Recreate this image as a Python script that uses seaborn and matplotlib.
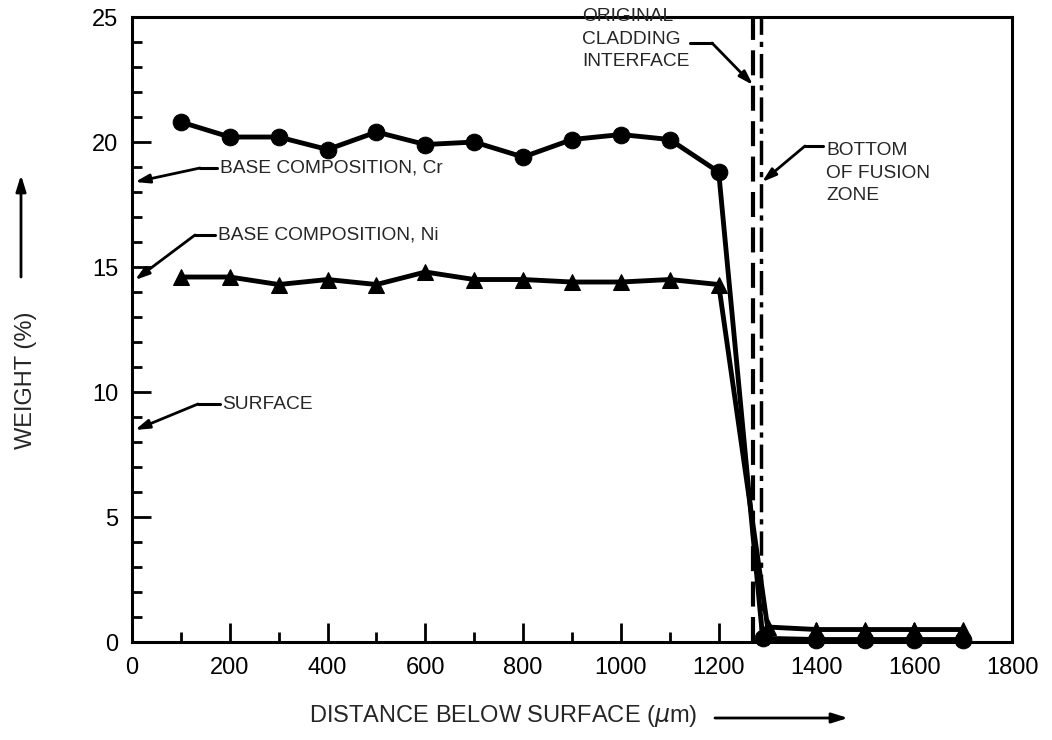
import matplotlib
matplotlib.use("Agg")
import matplotlib.pyplot as plt
import seaborn as sns
import pandas as pd

# --- data ---
cr_dist = [100, 200, 300, 400, 500, 600, 700, 800, 900, 1000, 1100, 1200,
           1290, 1400, 1500, 1600, 1700]
cr_weight = [20.8, 20.2, 20.2, 19.7, 20.4, 19.9, 20.0, 19.4, 20.1, 20.3, 20.1, 18.8,
             0.15, 0.1, 0.1, 0.1, 0.1]
ni_dist = [100, 200, 300, 400, 500, 600, 700, 800, 900, 1000, 1100, 1200,
           1300, 1400, 1500, 1600, 1700]
ni_weight = [14.6, 14.6, 14.3, 14.5, 14.3, 14.8, 14.5, 14.5, 14.4, 14.4, 14.5, 14.3,
             0.6, 0.5, 0.5, 0.5, 0.5]
cladding_interface = 1270
fusion_bottom = 1286

x_ticks = list(range(0, 1801, 200))
y_ticks = [0, 5, 10, 15, 20, 25]

sns.set_theme(style="ticks")
plt.rcParams["font.family"] = ["Liberation Sans", "DejaVu Sans"]

fig = plt.figure(figsize=(10.52, 7.4), dpi=100)
ax = fig.add_axes([0.1255, 0.1324, 0.8365, 0.8446])

cr = pd.DataFrame({"dist": cr_dist, "weight": cr_weight})
ni = pd.DataFrame({"dist": ni_dist, "weight": ni_weight})

sns.lineplot(data=cr, x="dist", y="weight", ax=ax, color="black", lw=3.5,
             marker="o", markersize=12, markeredgecolor="black", clip_on=False)
sns.lineplot(data=ni, x="dist", y="weight", ax=ax, color="black", lw=3.5,
             marker="^", markersize=12, markeredgecolor="black", clip_on=False)

ax.axvline(cladding_interface, color="black", lw=3, ls=(0, (6, 2.5)))
ax.axvline(fusion_bottom, color="black", lw=2.5, ls=(0, (7, 2, 1.5, 2)))

ax.set_xlim(0, 1800)
ax.set_ylim(0, 25)
ax.set_xticks(x_ticks)
ax.set_xticks(range(100, 1800, 200), minor=True)
ax.set_yticks(y_ticks)
ax.set_yticks([v for v in range(0, 26) if v % 5], minor=True)
ax.tick_params(which="both", direction="in", width=2, colors="black",
               labelsize=17)
ax.tick_params(which="major", length=14)
ax.tick_params(which="minor", length=7)
ax.tick_params(axis="x", pad=11)
ax.tick_params(axis="y", pad=10)
for side in ["top", "right", "bottom", "left"]:
    ax.spines[side].set_visible(True)
    ax.spines[side].set_linewidth(2.2)
    ax.spines[side].set_color("black")
ax.set_xlabel("")
ax.set_ylabel("")

# axis titles with their arrows
fig.text(503 / 1052, 1 - 716 / 740, "DISTANCE BELOW SURFACE ($\\mu$m)",
         ha="center", va="center", fontsize=17)
fig.text(26 / 1052, 1 - 380 / 740, "WEIGHT (%)", rotation=90,
         ha="center", va="center", fontsize=17)
arrow_kw = dict(arrowstyle="-|>,head_length=0.8,head_width=0.25", color="black",
                lw=2, shrinkA=0, shrinkB=0)
ax.annotate("", xy=(848 / 1052, 1 - 718 / 740), xytext=(715 / 1052, 1 - 718 / 740),
            xycoords="figure fraction", textcoords="figure fraction",
            arrowprops=arrow_kw)
ax.annotate("", xy=(21 / 1052, 1 - 175 / 740), xytext=(21 / 1052, 1 - 277 / 740),
            xycoords="figure fraction", textcoords="figure fraction",
            arrowprops=arrow_kw)

# callouts: (text, text pos px, line start px, elbow px, tip px)
callouts = [
    ("ORIGINAL\nCLADDING\nINTERFACE", (582, 39), (690, 43), (712, 43), (753, 85)),
    ("BOTTOM\nOF FUSION\nZONE", (826, 173), (823, 146), (805, 146), (762, 182)),
    ("BASE COMPOSITION, Cr", (220, 168), (217, 168), (200, 168), (135, 182)),
    ("BASE COMPOSITION, Ni", (218, 235), (215, 235), (195, 235), (135, 280)),
    ("SURFACE", (222, 405), (220, 404), (198, 404), (135, 430)),
]


def fpos(px):
    return (px[0] / 1052, 1 - px[1] / 740)


for label, tpos, start, elbow, tip in callouts:
    fig.text(*fpos(tpos), label, ha="left", va="center", fontsize=13.8,
             linespacing=1.45)
    fig.add_artist(plt.Line2D([fpos(start)[0], fpos(elbow)[0]],
                              [fpos(start)[1], fpos(elbow)[1]],
                              color="black", lw=2.2))
    ax.annotate("", xy=fpos(tip), xytext=fpos(elbow),
                xycoords="figure fraction", textcoords="figure fraction",
                arrowprops=dict(arrowstyle="-|>,head_length=0.7,head_width=0.22",
                                color="black", lw=2, shrinkA=0, shrinkB=0))

fig.savefig("out.png", dpi=100, facecolor="white")
